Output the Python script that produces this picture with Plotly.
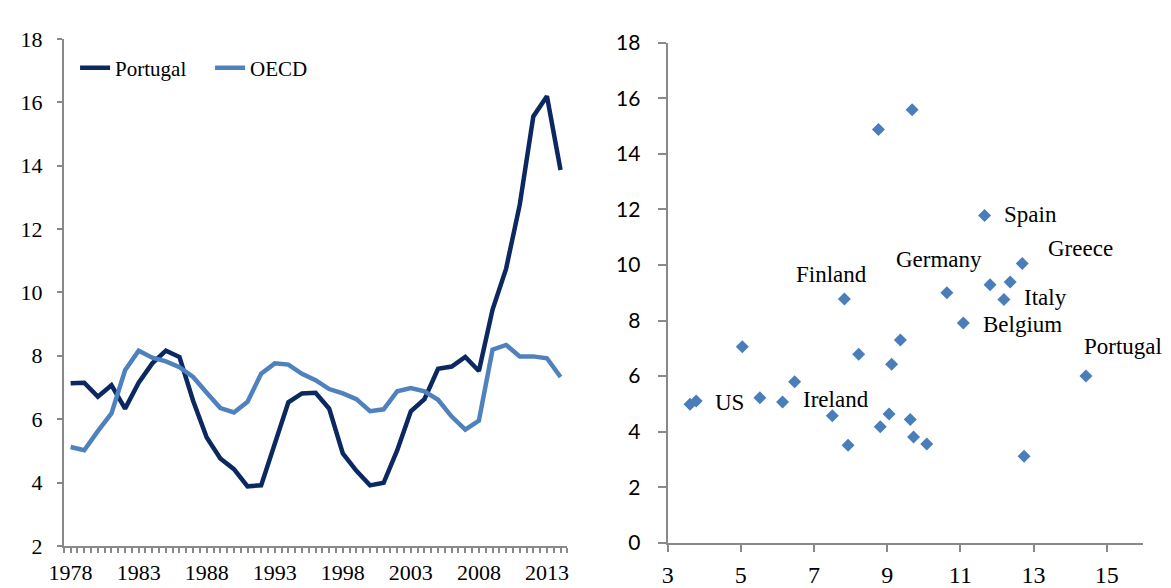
import plotly.graph_objects as go

# ---------------- data ----------------
years = list(range(1978, 2015))
portugal = [7.13, 7.15, 6.71, 7.07, 6.33, 7.15, 7.76, 8.16, 7.96, 6.58,
            5.42, 4.76, 4.42, 3.88, 3.91, 5.20, 6.53, 6.81, 6.83, 6.33,
            4.92, 4.37, 3.91, 3.99, 5.02, 6.25, 6.63, 7.59, 7.66, 7.96,
            7.52, 9.45, 10.75, 12.76, 15.55, 16.19, 13.86]
oecd = [5.12, 5.02, 5.62, 6.18, 7.54, 8.16, 7.94, 7.82, 7.64, 7.33,
        6.83, 6.35, 6.21, 6.55, 7.43, 7.76, 7.72, 7.43, 7.23, 6.95,
        6.81, 6.63, 6.25, 6.31, 6.88, 6.98, 6.88, 6.61, 6.08, 5.67,
        5.95, 8.19, 8.34, 7.98, 7.98, 7.92, 7.33]
year_ticks = [1978, 1983, 1988, 1993, 1998, 2003, 2008, 2013]

scatter_x = [3.61, 3.78, 5.04, 5.52, 6.14, 6.47, 7.50, 7.83, 7.93, 8.22,
             8.76, 8.81, 9.05, 9.12, 9.36, 9.63, 9.68, 9.72, 10.08, 10.63,
             11.08, 11.66, 11.81, 12.19, 12.36, 12.69, 12.74, 14.43]
scatter_y = [4.99, 5.10, 7.06, 5.22, 5.07, 5.80, 4.57, 8.77, 3.51, 6.79,
             14.87, 4.18, 4.64, 6.43, 7.30, 4.44, 15.58, 3.81, 3.56, 9.00,
             7.91, 11.78, 9.29, 8.76, 9.39, 10.05, 3.12, 6.00]
label_names = ["US", "Ireland", "Finland", "Germany", "Belgium",
               "Spain", "Italy", "Greece", "Portugal"]
label_index = [1, 4, 7, 19, 20, 21, 23, 25, 27]

# ---------------- styles ----------------
label_style = {
    "US": ("left", 17, -1),
    "Ireland": ("left", 18, 2),
    "Finland": ("center", -13, 25),
    "Germany": ("center", -8, 33),
    "Belgium": ("left", 18, -1),
    "Spain": ("left", 17, 1),
    "Italy": ("left", 18, 2),
    "Greece": ("left", 24, 15),
    "Portugal": ("left", -4, 30),
}

SERIF = "Liberation Serif"
SANS = "Lato"
AX = "#898989"

fig = go.Figure()
fig.add_trace(go.Scatter(x=years, y=portugal, mode="lines", name="Portugal",
                         line=dict(color="#0c2861", width=4.5),
                         xaxis="x", yaxis="y"))
fig.add_trace(go.Scatter(x=years, y=oecd, mode="lines", name="OECD",
                         line=dict(color="#4f81bd", width=4.5),
                         xaxis="x", yaxis="y"))
fig.add_trace(go.Scatter(x=scatter_x, y=scatter_y, mode="markers",
                         marker=dict(symbol="diamond", size=10, color="#4a7ebb",
                                     line=dict(width=0)),
                         showlegend=False, xaxis="x2", yaxis="y2"))

annotations = []
for name, idx in zip(label_names, label_index):
    anchor, dx, dy = label_style[name]
    annotations.append(dict(
        x=scatter_x[idx], y=scatter_y[idx], xref="x2", yref="y2",
        text=name, showarrow=False, xanchor=anchor, yanchor="middle",
        xshift=dx, yshift=dy,
        font=dict(family=SERIF, size=23, color="black")))

W, H = 1171, 588
fig.update_layout(
    width=W, height=H,
    margin=dict(l=0, r=0, t=0, b=0),
    paper_bgcolor="white", plot_bgcolor="white",
    showlegend=True,
    legend=dict(orientation="h", x=0.052, y=1 - 56.7 / H, xanchor="left",
                yanchor="middle", font=dict(family=SERIF, size=21, color="black"),
                bgcolor="rgba(0,0,0,0)", entrywidth=90, entrywidthmode="pixels"),
    xaxis=dict(domain=[49.5 / W, 560 / W], range=[1977.5, 2014.5],
               tickmode="array", tickvals=year_ticks, ticktext=[str(v) for v in year_ticks],
               showgrid=False, zeroline=False, showline=True, linecolor=AX, linewidth=2,
               ticks="outside", ticklen=5, tickcolor=AX, tickwidth=2,
               minor=dict(tick0=1977.5, dtick=0.5, ticks="outside", ticklen=5,
                          tickcolor=AX, tickwidth=2, showgrid=False),
               tickfont=dict(family=SERIF, size=22, color="black"),
               ticklabelstandoff=1, anchor="y", fixedrange=True),
    yaxis=dict(domain=[1 - 557.5 / H, 1 - 26 / H], range=[2, 18], dtick=2, tick0=2,
               showgrid=False, zeroline=False, showline=True, linecolor=AX, linewidth=2,
               ticks="outside", ticklen=5, tickcolor=AX, tickwidth=2,
               tickfont=dict(family=SERIF, size=22, color="black"),
               ticklabelstandoff=10, anchor="x", fixedrange=True),
    xaxis2=dict(domain=[661.7 / W, 1144 / W], range=[3, 16], tickmode="array",
                tickvals=[3, 5, 7, 9, 11, 13, 15],
                showgrid=False, zeroline=False, showline=True, linecolor=AX, linewidth=2,
                ticks="outside", ticklen=7, tickcolor=AX, tickwidth=2,
                tickfont=dict(family=SERIF, size=24, color="black"),
                ticklabelstandoff=2, anchor="y2", fixedrange=True),
    yaxis2=dict(domain=[1 - 554.3 / H, 1 - 30 / H], range=[0, 18], dtick=2, tick0=0,
                showgrid=False, zeroline=False, showline=True, linecolor=AX, linewidth=2,
                ticks="outside", ticklen=8, tickcolor=AX, tickwidth=2,
                tickfont=dict(family=SANS, size=21, color="black"),
                ticklabelstandoff=13, anchor="x2", fixedrange=True),
    annotations=annotations,
)

fig.write_html("out.html", config={"displayModeBar": False},
               post_script="document.body.style.margin='0px';document.body.style.overflow='hidden';")
